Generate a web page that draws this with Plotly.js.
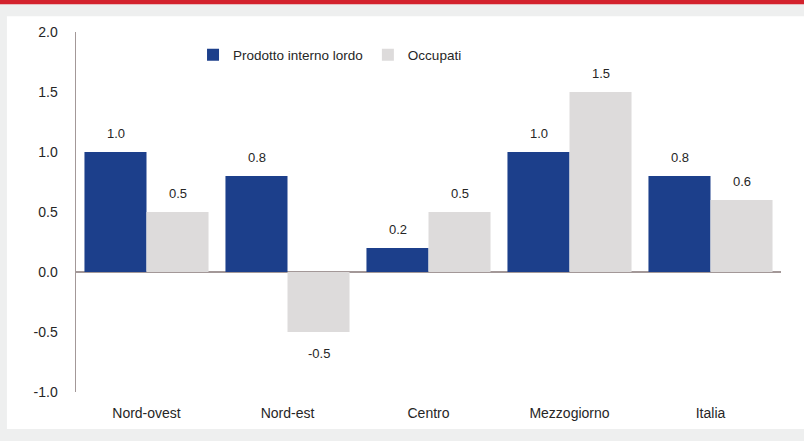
<!DOCTYPE html>
<html>
<head>
<meta charset="utf-8">
<script src="https://cdn.plot.ly/plotly-3.0.1.min.js"></script>
<style>html,body{margin:0;padding:0;background:#eeefef;}#chart{width:804px;height:441px;}</style>
</head>
<body>
<div id="chart"></div>
<script>
const categories = ["Nord-ovest", "Nord-est", "Centro", "Mezzogiorno", "Italia"];
const pilValues = [1.0, 0.8, 0.2, 1.0, 0.8];
const occupatiValues = [0.5, -0.5, 0.5, 1.5, 0.6];
const seriesNames = ["Prodotto interno lordo", "Occupati"];
const yTickValues = [-1.0, -0.5, 0.0, 0.5, 1.0, 1.5, 2.0];
const yTickLabels = ["-1.0", "-0.5", "0.0", "0.5", "1.0", "1.5", "2.0"];

const FONT = "'Liberation Sans', Arial, sans-serif";
const BLUE = "#1c3f8b";
const GREY = "#dddbdb";
const TXT = "#262626";

const traces = [
  {type: "bar", name: seriesNames[0], x: categories, y: pilValues,
   marker: {color: BLUE}, hoverinfo: "skip"},
  {type: "bar", name: seriesNames[1], x: categories, y: occupatiValues,
   marker: {color: GREY}, hoverinfo: "skip"}
];

const annotations = [];
[pilValues, occupatiValues].forEach((vals, s) => {
  vals.forEach((v, i) => {
    annotations.push({
      x: categories[i], y: v, xref: "x", yref: "y",
      text: v.toFixed(1), showarrow: false,
      xshift: s === 0 ? -31 : 31,
      yanchor: v >= 0 ? "bottom" : "top",
      yshift: v >= 0 ? 9 : -12,
      font: {family: FONT, size: 13, color: TXT}
    });
  });
});

const shapes = [
  {type: "rect", xref: "paper", yref: "paper", x0: -0.098, x1: 1.04, y0: -0.103, y1: 1.044,
   fillcolor: "#ffffff", line: {width: 0}, layer: "below"},
  {type: "rect", xref: "paper", yref: "paper", x0: -0.12, x1: 1.05, y0: 1.077, y1: 1.10,
   fillcolor: "#d3222d", line: {width: 0}, layer: "below"}
];

const layout = {
  width: 804, height: 441,
  margin: {l: 76, r: 23, t: 32, b: 49},
  paper_bgcolor: "#eeefef",
  plot_bgcolor: "rgba(0,0,0,0)",
  barmode: "group",
  bargap: 0.12,
  bargroupgap: 0,
  font: {family: FONT, size: 14, color: TXT},
  showlegend: true,
  legend: {orientation: "h", x: 0.166, y: 0.936, xanchor: "left", yanchor: "middle",
           bgcolor: "rgba(0,0,0,0)", font: {family: FONT, size: 13.5, color: TXT},
           itemwidth: 30, traceorder: "normal"},
  xaxis: {type: "category", showline: false, showgrid: false, zeroline: false,
          ticks: "", ticklabelstandoff: 11, tickfont: {family: FONT, size: 14, color: TXT}},
  yaxis: {range: [-1, 2], tickmode: "array", tickvals: yTickValues, ticktext: yTickLabels,
          showgrid: false, zeroline: true, zerolinecolor: "#a39898", zerolinewidth: 1.5,
          showline: true, linecolor: "#a39898", linewidth: 1.5, ticks: "",
          ticklabelstandoff: 14, tickfont: {family: FONT, size: 14, color: TXT}},
  annotations: annotations,
  shapes: shapes
};

Plotly.newPlot("chart", traces, layout, {displayModeBar: false, staticPlot: true});
</script>
</body>
</html>
